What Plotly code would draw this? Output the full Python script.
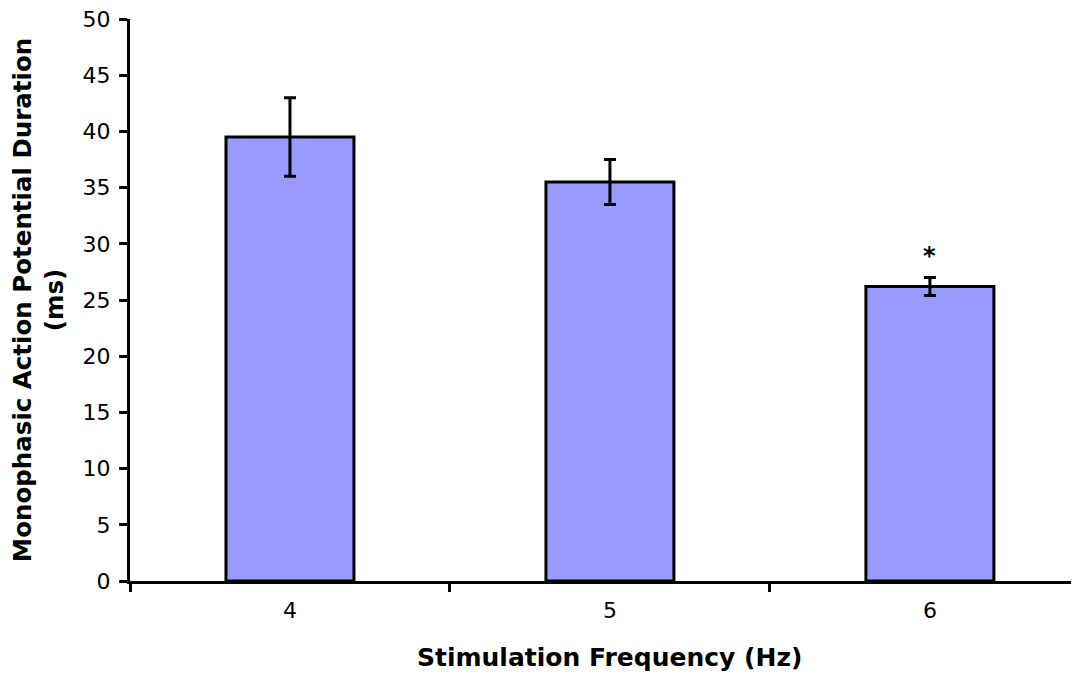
import plotly.graph_objects as go

categories = ["4", "5", "6"]
values = [39.5, 35.5, 26.2]
err_plus = [3.5, 2.0, 0.8]
err_minus = [3.5, 2.0, 0.8]
y_ticks = list(range(0, 55, 5))
sig_label = "<b>*</b>"
sig_index = 2
sig_y = 27.5

FONT = "DejaVu Sans"

fig = go.Figure()
fig.add_trace(go.Bar(
    x=categories, y=values, width=0.4,
    marker=dict(color="#9999FF", line=dict(color="black", width=3)),
    error_y=dict(type="data", symmetric=False, array=err_plus, arrayminus=err_minus,
                 color="black", thickness=3, width=6),
))
fig.add_annotation(x=sig_index, y=sig_y, text=sig_label, showarrow=False,
                   yanchor="bottom", font=dict(family=FONT, size=24, color="black"))
# x-axis title, centred on the (partly off-screen) plot area like the reference
fig.add_annotation(x=1.0, xref="x", y=0, yref="paper", yshift=-93, yanchor="bottom",
                   text="<b>Stimulation Frequency (Hz)</b>", showarrow=False,
                   font=dict(family=FONT, size=25, color="black"))

fig.update_layout(
    width=1071, height=669,
    margin=dict(l=122, r=0, t=11, b=96, autoexpand=False),
    plot_bgcolor="white", paper_bgcolor="white",
    showlegend=False,
    font=dict(family=FONT, size=22, color="black"),
    xaxis=dict(
        type="category", range=[-0.5, 2.466],
        showline=True, linecolor="black", linewidth=3,
        ticks="outside", tickson="boundaries", ticklen=8, tickwidth=3, tickcolor="black",
        showgrid=False, zeroline=False, automargin=False,
        tickfont=dict(family=FONT, size=22), ticklabelstandoff=8,
    ),
    yaxis=dict(
        range=[0, 50], tickvals=y_ticks,
        showline=True, linecolor="black", linewidth=3,
        ticks="outside", ticklen=8, tickwidth=3, tickcolor="black",
        showgrid=False, zeroline=False, automargin=False,
        tickfont=dict(family=FONT, size=22), ticklabelstandoff=4,
        ticklabeloverflow="allow",
        title=dict(text="<b>Monophasic Action Potential Duration<br>(ms)</b>", standoff=14,
                   font=dict(family=FONT, size=24.5)),
    ),
)

fig.write_html("out.html")
